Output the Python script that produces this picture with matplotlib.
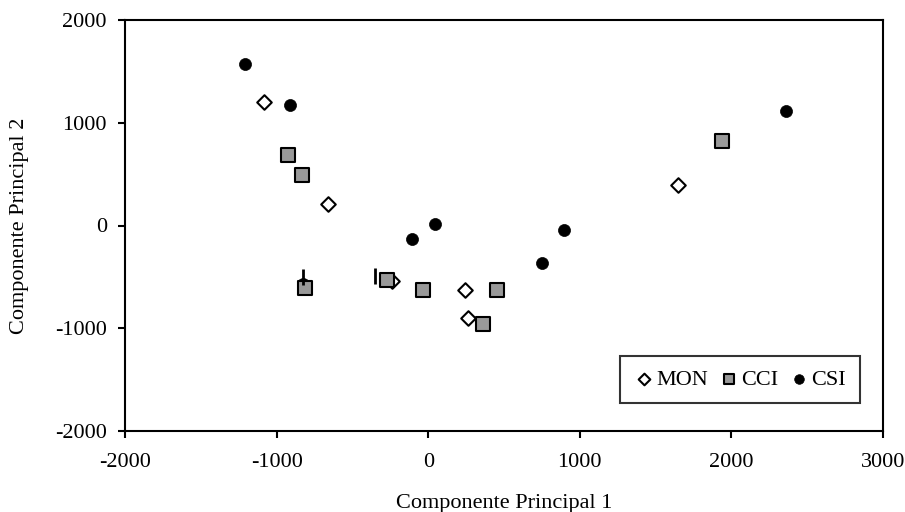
import matplotlib
matplotlib.use("Agg")
import matplotlib.pyplot as plt

plt.rcParams['font.family'] = ['Liberation Serif', 'DejaVu Serif']
plt.rcParams['axes.unicode_minus'] = False

mon_x = [-1080, -660, -240, 240, 265, 1650]
mon_y = [1200, 210, -540, -630, -900, 390]

cci_x = [-925, -830, -812, -273, -35, 454, 361, 1935]
cci_y = [690, 495, -605, -531, -628, -628, -961, 818]

csi_x = [-1209, -911, -825, 46, -108, 751, 898, 2363]
csi_y = [1573, 1175, -573, 10, -136, -362, -39, 1119]

bar_x = [-825, -348]
bar_y = [-505, -495]

fig = plt.figure(figsize=(9.05, 5.12), dpi=100)
ax = fig.add_axes([125/905, 1-431/512, (883-125)/905, (431-20)/512])

ax.scatter(csi_x, csi_y, marker='o', s=75, c='black', edgecolors='black', linewidths=0.5, zorder=2, label='CSI')
ax.scatter(mon_x, mon_y, marker='D', s=55, facecolors='white', edgecolors='black', linewidths=1.5, zorder=3, label='MON')
ax.scatter(cci_x, cci_y, marker='s', s=90, facecolors='#999999', edgecolors='black', linewidths=1.5, zorder=4, label='CCI')
ax.plot(bar_x, bar_y, linestyle='none', marker='|', markersize=12, markeredgewidth=2, color='black', zorder=5)

ax.set_xlim(-2000, 3000)
ax.set_ylim(-2000, 2000)
ax.set_xticks([-2000, -1000, 0, 1000, 2000, 3000])
ax.set_yticks([-2000, -1000, 0, 1000, 2000])
ax.tick_params(direction='out', length=5, width=1.5, labelsize=16)
ax.tick_params(axis='x', pad=11)
ax.tick_params(axis='y', pad=8)
for sp in ax.spines.values():
    sp.set_linewidth(1.5)

ax.set_xlabel('Componente Principal 1', fontsize=16, labelpad=16)
ax.set_ylabel('Componente Principal 2', fontsize=16, labelpad=19)

handles, labels = ax.get_legend_handles_labels()
order = [1, 2, 0]
leg = ax.legend([handles[i] for i in order], [labels[i] for i in order], ncol=3,
                loc='lower right', bbox_to_anchor=(0.969, 0.068), fontsize=16,
                frameon=True, fancybox=False, edgecolor='black',
                handletextpad=0.1, columnspacing=0.5, handlelength=0.9,
                borderpad=0.6, borderaxespad=0, scatterpoints=1, markerscale=0.8)
leg.get_frame().set_linewidth(1.5)

fig.savefig('out.png', dpi=100)
